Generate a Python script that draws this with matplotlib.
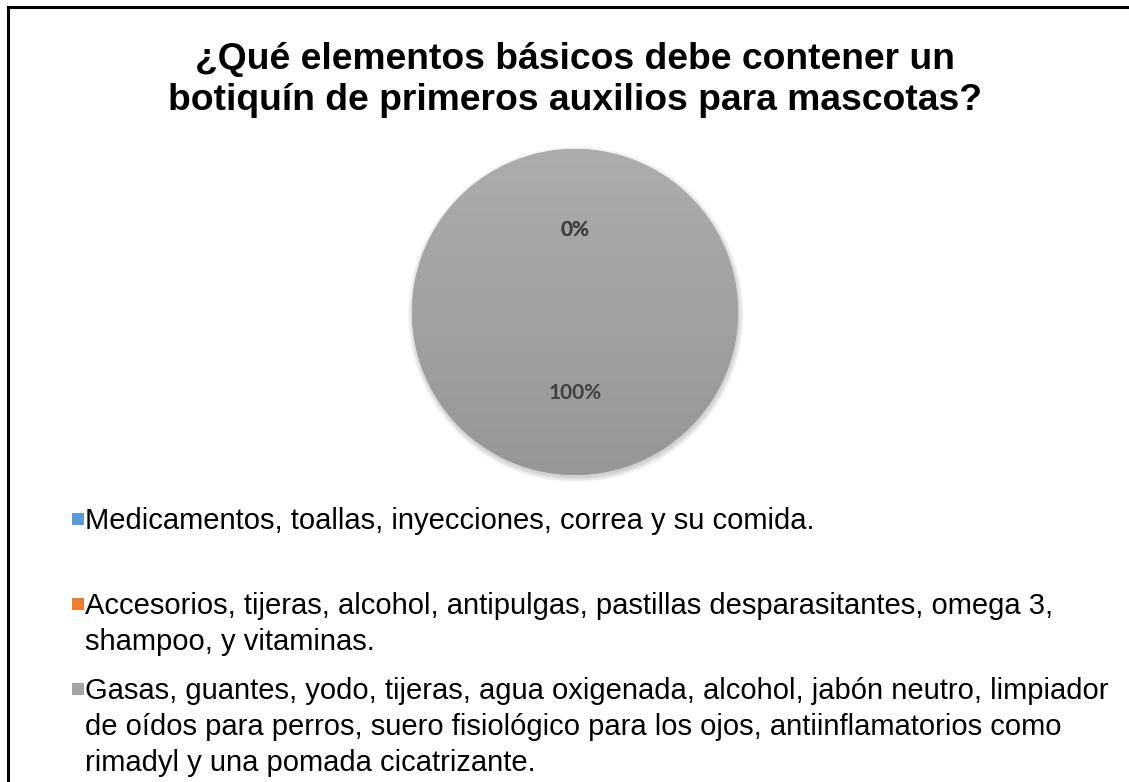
import matplotlib.pyplot as plt
import numpy as np
from matplotlib.patches import Rectangle, Circle
from matplotlib.lines import Line2D
from matplotlib.colors import LinearSegmentedColormap

# datos
categorias = [
    "Medicamentos, toallas, inyecciones, correa y su comida.",
    "Accesorios, tijeras, alcohol, antipulgas, pastillas desparasitantes, omega 3,\nshampoo, y vitaminas.",
    "Gasas, guantes, yodo, tijeras, agua oxigenada, alcohol, jabón neutro, limpiador\nde oídos para perros, suero fisiológico para los ojos, antiinflamatorios como\nrimadyl y una pomada cicatrizante.",
]
valores = [0, 0, 100]
colores = ["#5B9BD5", "#ED7D31", "#A5A5A5"]
titulo = "¿Qué elementos básicos debe contener un\nbotiquín de primeros auxilios para mascotas?"

fig = plt.figure(figsize=(11.29, 7.82), dpi=100)
W, H = 1129, 782

# marco (solo arriba e izquierda visibles)
fig.add_artist(Line2D([8 / W, 8 / W], [0, 1 - 7 / H], color="black", lw=2.2, transform=fig.transFigure))
fig.add_artist(Line2D([8 / W, 1], [1 - 7 / H, 1 - 7 / H], color="black", lw=2.2, transform=fig.transFigure))

fig.text(575 / W, 1 - 80 / H, titulo, ha="center", va="center", fontsize=26.8,
         fontweight="bold", family="Liberation Sans", linespacing=1.22)

# pastel
r = 163
cx, cy = 575, 312
ax = fig.add_axes([(cx - 1.05 * r) / W, 1 - (cy + 1.05 * r) / H, 2.1 * r / W, 2.1 * r / H])

# sombra suave
for k in range(6):
    ax.add_patch(Circle((0.005, -0.015), 1.0 + 0.006 * k, color="#000000", alpha=0.03, lw=0, zorder=0))

wedges, textos, autotextos = ax.pie(
    valores, colors=colores, startangle=90, counterclock=False,
    autopct="%1.0f%%", pctdistance=0.5, radius=1,
    wedgeprops=dict(linewidth=0),
    textprops=dict(fontsize=15, fontweight="bold", color="#404040", family="Lato"),
)
ax.set_xlim(-1.05, 1.05)
ax.set_ylim(-1.05, 1.05)
ax.set_aspect("equal")

# degradado sobre la porción gris
grad = LinearSegmentedColormap.from_list("g", ["#979797", "#ACACAC"])
img = ax.imshow(np.linspace(0, 1, 256).reshape(-1, 1), cmap=grad, origin="lower",
                extent=[-1, 1, -1, 1], aspect="auto", zorder=1.5)
img.set_clip_path(wedges[2])
for t in autotextos:
    t.set_zorder(3)

# leyenda
y_items = [520, 605, 690]
for etiqueta, color, y in zip(categorias, colores, y_items):
    fig.add_artist(Rectangle((72 / W, 1 - (y + 5) / H), 12 / W, 12 / H,
                             facecolor=color, lw=0, transform=fig.transFigure))
    fig.text(85 / W, 1 - (y - 13) / H, etiqueta, ha="left", va="top", fontsize=21,
             family="Liberation Sans", linespacing=1.37)

fig.savefig("out.png", dpi=100)
